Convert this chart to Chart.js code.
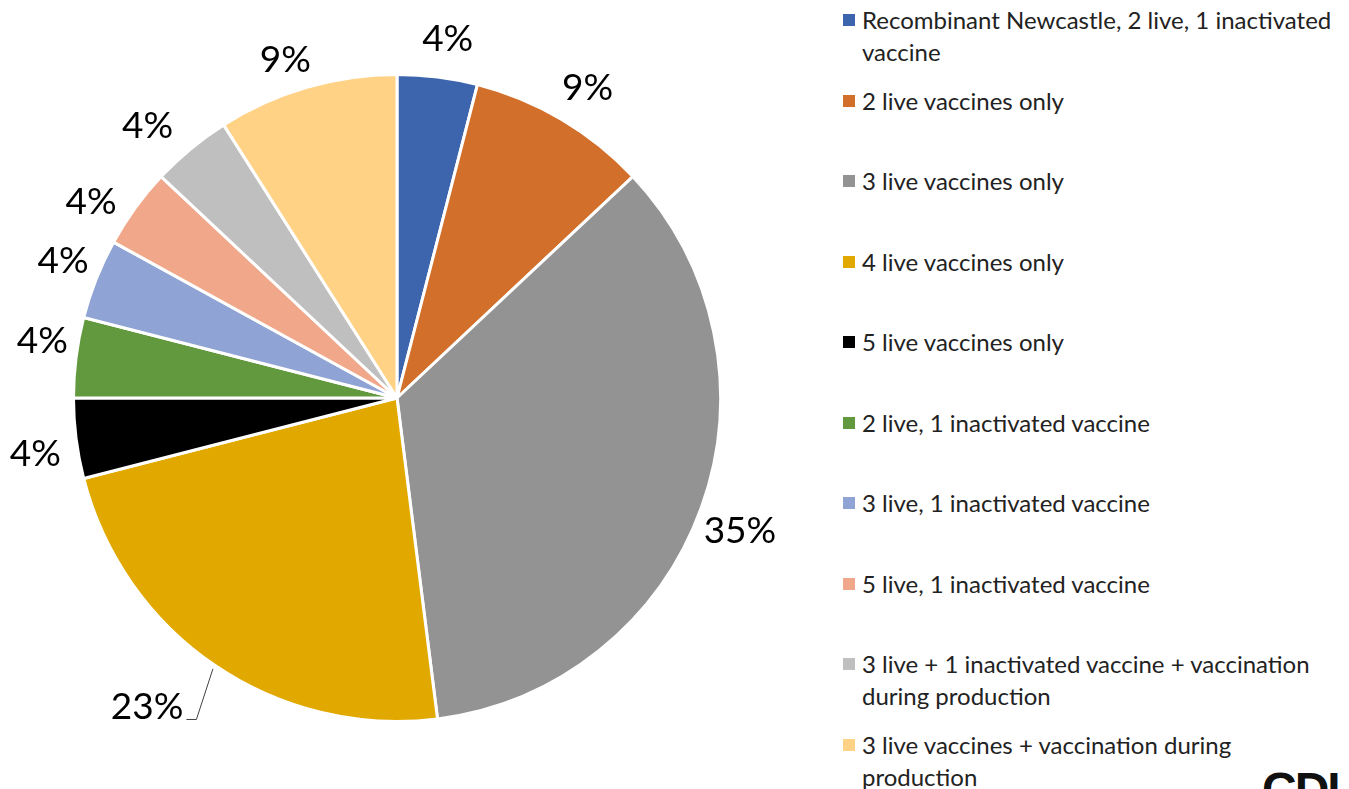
<!DOCTYPE html>
<html>
<head>
<meta charset="utf-8">
<script src="https://cdn.jsdelivr.net/npm/chart.js@4/dist/chart.umd.min.js"></script>
<style>
  html, body { margin: 0; padding: 0; background: #fff; overflow: hidden; }
  body { width: 1349px; height: 789px; position: relative; font-family: Lato, "Open Sans", sans-serif; }
  #pieBox { position: absolute; left: 0; top: 0; width: 794px; height: 789px; }
  #legend { position: absolute; left: 843px; top: 0; width: 506px; }
  .item { position: absolute; left: 0; display: flex; align-items: flex-start; width: 506px; }
  .swatch { width: 12px; height: 12px; flex: none; margin-top: 10px; margin-right: 7px; }
  .txt { font-size: 24px; line-height: 32px; color: #222; width: 487px; }
  #logo { position: absolute; left: 1262px; top: 766px; font: bold 48px "Liberation Sans", Arial, sans-serif; line-height: 48px; letter-spacing: -2px; color: #111; }
</style>
</head>
<body>
<div id="pieBox"><canvas id="chart"></canvas></div>
<div id="legend"></div>
<div id="logo">CDI</div>
<script>
// categories and shares (%)
const categories = [
    "Recombinant Newcastle, 2 live, 1 inactivated vaccine",
    "2 live vaccines only",
    "3 live vaccines only",
    "4 live vaccines only",
    "5 live vaccines only",
    "2 live, 1 inactivated vaccine",
    "3 live, 1 inactivated vaccine",
    "5 live, 1 inactivated vaccine",
    "3 live + 1 inactivated vaccine + vaccination during production",
    "3 live vaccines + vaccination during production"
];
const shares = [4, 9, 35, 23, 4, 4, 4, 4, 4, 9];
const colors = ["#3c65ad", "#d26f2b", "#939393", "#e1a900", "#000000",
                "#62993e", "#8fa4d4", "#f1a88a", "#bfbfbf", "#ffd286"];

// labels outside the pie, 23% moved off with a leader line like in Excel
const outsideLabels = {
    id: "outsideLabels",
    afterDatasetsDraw(chart, args, opts) {
        const ctx = chart.ctx;
        const meta = chart.getDatasetMeta(0);
        ctx.save();
        ctx.font = opts.font;
        ctx.fillStyle = "#000";
        ctx.textAlign = "center";
        ctx.textBaseline = "middle";
        meta.data.forEach((arc, i) => {
            const p = arc.getProps(["x", "y", "startAngle", "endAngle", "outerRadius"], true);
            const mid = (p.startAngle + p.endAngle) / 2;
            const r = p.outerRadius + opts.distance;
            const nudge = opts.nudge[i] || [0, 0];
            const lx = p.x + Math.cos(mid) * r + nudge[0];
            const ly = p.y + Math.sin(mid) * r + nudge[1];
            const text = shares[i] + "%";
            ctx.fillText(text, lx, ly);
            if (opts.leader.includes(i)) {
                const w = ctx.measureText(text).width;
                const ex = p.x + Math.cos(mid) * (p.outerRadius + 4);
                const ey = p.y + Math.sin(mid) * (p.outerRadius + 4);
                ctx.beginPath();
                ctx.strokeStyle = "#404040";
                ctx.lineWidth = 1;
                ctx.moveTo(lx + w / 2 + 3, ly + 12);
                ctx.lineTo(lx + w / 2 + 13, ly + 12);
                ctx.lineTo(ex, ey);
                ctx.stroke();
            }
        });
        ctx.restore();
    }
};

new Chart(document.getElementById("chart"), {
    type: "pie",
    data: {
        labels: categories,
        datasets: [{
            data: shares,
            backgroundColor: colors,
            borderColor: "#ffffff",
            borderWidth: 3
        }]
    },
    options: {
        responsive: true,
        maintainAspectRatio: false,
        animation: false,
        layout: { padding: { left: 72, right: 72, top: 73, bottom: 66 } },
        plugins: {
            legend: { display: false },
            tooltip: { enabled: false },
            outsideLabels: {
                font: "37px Lato, 'Open Sans', sans-serif",
                distance: 41,
                nudge: { 0: [5, 3], 1: [5, 4], 2: [0, 10], 3: [-45, 8], 4: [0, 10], 5: [7, -11],
                         6: [5, -3], 7: [-11, 18], 8: [-17, 9], 9: [-10, 12] },
                leader: [3]
            }
        }
    },
    plugins: [outsideLabels]
});

// legend on the right, one slot per category
const legendEl = document.getElementById("legend");
categories.forEach((c, i) => {
    const item = document.createElement("div");
    item.className = "item";
    item.style.top = (4 + i * 80.5) + "px";
    item.innerHTML = '<span class="swatch" style="background:' + colors[i] + '"></span><span class="txt">' + c + '</span>';
    legendEl.appendChild(item);
});
</script>
</body>
</html>
